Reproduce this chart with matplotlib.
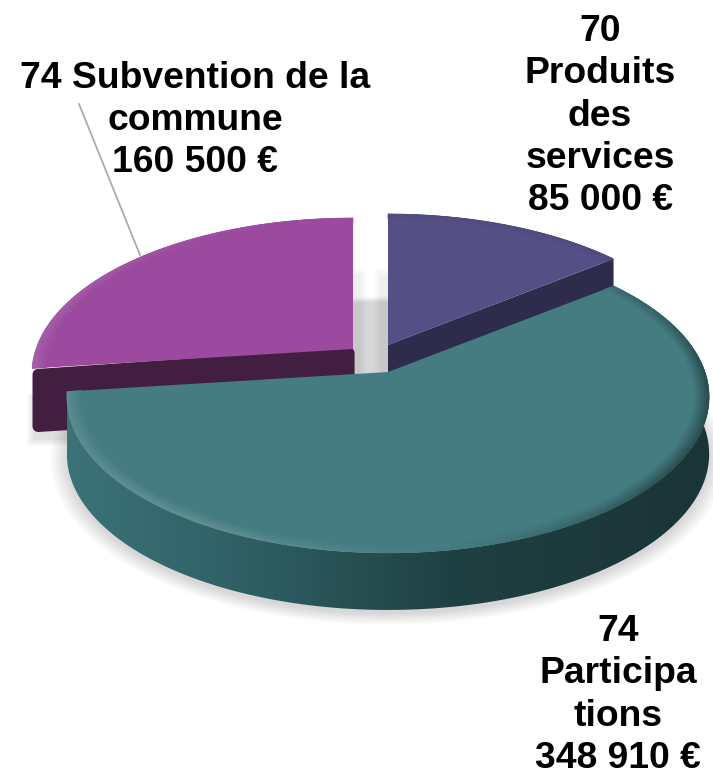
import numpy as np
import matplotlib
matplotlib.use("Agg")
import matplotlib.pyplot as plt
from matplotlib.collections import PolyCollection
from matplotlib.colors import LinearSegmentedColormap
from matplotlib.patches import Polygon

# values, clockwise from 12 o'clock
names = ["70 Produits des services", "74 Participations", "74 Subvention de la commune"]
values = [85000, 348910, 160500]
labels = ["70\nProduits\ndes\nservices\n85 000 €",
          "74\nParticipa\ntions\n348 910 €",
          "74 Subvention de la\ncommune\n160 500 €"]

top_colors = ["#544f85", "#447c81", "#9b4a9f"]
side_colors = ["#2e2b4d", "#2a5558", "#421e40"]
apexes = [(388, 345), (388, 372), (353, 349)]
depths = [55, 57, 64]
label_pos = [(600, 116), (618, 695), (195, 120.5)]

RX, RY, P = 317, 152, 0.16


def project(t, r, apex):
    # perspective view of a flat disc, t in degrees clockwise from top
    a = np.radians(t)
    u = r * np.sin(a)
    v = r * np.cos(a)
    w = 1 + P * v
    return apex[0] + RX * u / w, apex[1] - RY * v / w


def mix(color, amount):
    c = np.array(matplotlib.colors.to_rgb(color))
    target = 1.0 if amount > 0 else 0.0
    return tuple(c + (target - c) * abs(amount))


fig = plt.figure(figsize=(7.13, 7.73), dpi=100)
ax = fig.add_axes([0, 0, 1, 1])
ax.set_xlim(0, 713)
ax.set_ylim(773, 0)
ax.axis("off")

edges = np.cumsum([0] + values) / sum(values) * 360
starts, ends = edges[:-1], edges[1:]

# soft shadows under the slices
for s in np.linspace(1.05, 1.0, 10):
    tt = np.linspace(0, 360, 200)
    x, y = project(tt, s, apexes[1])
    ax.fill(x, y + depths[1] + 4, color="black", alpha=0.016, lw=0, zorder=1)
for k in range(8):
    # purple foot, left of the big slice
    ax.fill([27 + k, 120, 120, 27 + k], [395, 395, 446 - k, 446 - k],
            color="black", alpha=0.014, lw=0, zorder=1)
    # gap between the two back slices
    ax.fill([353, 367 - k, 367 - k, 353], [268 + k, 268 + k, 375, 375],
            color="black", alpha=0.008, lw=0, zorder=1)
    ax.fill([374 + k, 388, 388, 374 + k], [268 + k, 268 + k, 375, 375],
            color="black", alpha=0.008, lw=0, zorder=1)

# leader line of the commune label
ax.plot([79, 140], [104, 255], color="#a6a6a6", lw=1.2, zorder=2)

for i in [2, 0, 1]:
    apex, depth = apexes[i], depths[i]
    z = {2: 3, 0: 4, 1: 5}[i]
    tt = np.linspace(starts[i], ends[i], 240)
    x, y = project(tt, 1, apex)

    # cut faces
    if i == 0:
        ax.fill([apex[0], x[-1], x[-1], apex[0]],
                [apex[1], y[-1], y[-1] + depth, apex[1] + depth],
                color=side_colors[i], lw=0, zorder=z)
    if i == 2:
        ax.fill([x[0] + 6, apex[0] - 4, apex[0] - 4, x[0] + 6],
                [y[0] + 6, apex[1] + 4, apex[1] + depth - 6, y[0] + depth - 6],
                facecolor=side_colors[i], edgecolor=side_colors[i], lw=8,
                joinstyle="round", zorder=z)

    # outer wall, dark towards the right
    if i == 1:
        wall = Polygon(np.c_[np.r_[x, x[::-1]], np.r_[y, y[::-1] + depth]],
                       closed=True, facecolor="none", edgecolor="none",
                       transform=ax.transData)
        ax.add_patch(wall)
        wall_cmap = LinearSegmentedColormap.from_list(
            "wall", [(0, "#3b7379"), (0.28, "#2f5f64"), (0.6, "#1f4042"), (1, "#1b3437")])
        im = ax.imshow(np.linspace(0, 1, 256)[None, :], cmap=wall_cmap, aspect="auto",
                       extent=[x.min(), x.max(), 773, 0], zorder=z)
        im.set_clip_path(wall)
        ax.set_xlim(0, 713)
        ax.set_ylim(773, 0)

    # top face
    ax.fill(np.r_[apex[0], x], np.r_[apex[1], y], color=top_colors[i], lw=0, zorder=z + 0.2)

    # bevel along the rim
    if i == 1:
        light = np.interp(tt, [51, 90, 130, 170, 210, 263],
                          [-0.15, -0.4, -0.35, 0, 0.16, 0.12])
    elif i == 2:
        light = np.interp(tt, [263, 290, 330, 360], [0.12, 0.1, 0.03, 0])
    else:
        light = np.full_like(tt, -0.05)
    radii = np.linspace(1.0, 0.955, 9)
    for b in range(len(radii) - 1):
        xa, ya = project(tt, radii[b], apex)
        xb, yb = project(tt, radii[b + 1], apex)
        fade = 1 - b / (len(radii) - 1)
        polys = [[(xa[k], ya[k]), (xa[k + 1], ya[k + 1]), (xb[k + 1], yb[k + 1]), (xb[k], yb[k])]
                 for k in range(len(tt) - 1)]
        cols = [mix(top_colors[i], light[k] * fade) for k in range(len(tt) - 1)]
        ax.add_collection(PolyCollection(polys, facecolors=cols, edgecolors=cols,
                                         linewidths=0.4, zorder=z + 0.3))

for lab, (lx, ly) in zip(labels, label_pos):
    ax.text(lx, ly, lab, ha="center", va="center", family="Liberation Sans",
            fontweight="bold", fontsize=26.8, linespacing=1.27, color="black", zorder=10)

fig.savefig("out.png", dpi=100)
